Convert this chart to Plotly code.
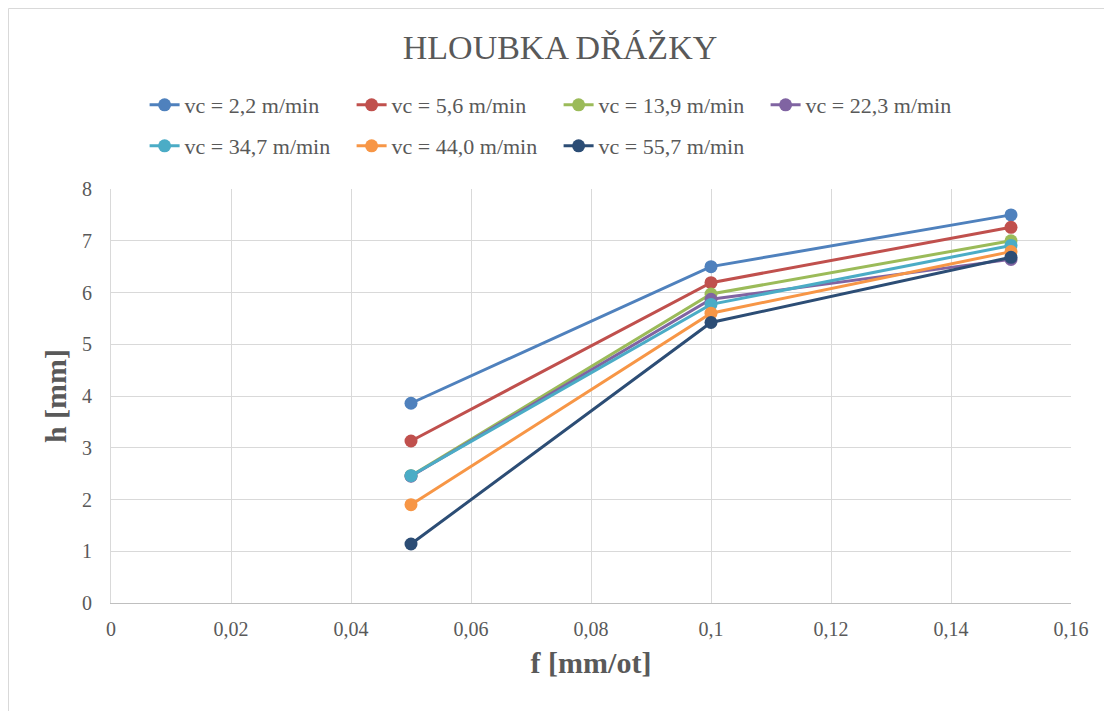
import plotly.graph_objects as go

f_vals = [0.05, 0.1, 0.15]
series_names = ["vc = 2,2 m/min", "vc = 5,6 m/min", "vc = 13,9 m/min", "vc = 22,3 m/min",
                "vc = 34,7 m/min", "vc = 44,0 m/min", "vc = 55,7 m/min"]
h_22 = [3.86, 6.50, 7.50]
h_56 = [3.13, 6.19, 7.26]
h_139 = [2.46, 5.97, 7.00]
h_223 = [2.45, 5.87, 6.64]
h_347 = [2.46, 5.77, 6.91]
h_440 = [1.90, 5.60, 6.79]
h_557 = [1.14, 5.42, 6.68]
series_values = [h_22, h_56, h_139, h_223, h_347, h_440, h_557]
colors = ["#4f81bd", "#c0504d", "#9bbb59", "#8064a2", "#4bacc6", "#f79646", "#2c4d75"]

FONT = "Liberation Serif, Times New Roman, serif"
GRAY = "#595959"

# page has an 8px body margin; figure placed at (8, 8)
W, H = 1104, 703
L, R, T, B = 103, 41, 181, 108
PW, PH = W - L - R, H - T - B

fig = go.Figure()
for i, (name, vals, col) in enumerate(zip(series_names, series_values, colors)):
    fig.add_trace(go.Scatter(
        x=f_vals, y=vals, name=name, mode="lines+markers",
        line=dict(color=col, width=3),
        marker=dict(color=col, size=13),
        legend="legend" if i < 4 else "legend2",
    ))

leg_common = dict(orientation="h", xanchor="left", yanchor="middle",
                  font=dict(family=FONT, size=22, color=GRAY), bgcolor="rgba(0,0,0,0)",
                  entrywidth=162, entrywidthmode="pixels")
fig.update_layout(
    width=W, height=H,
    margin=dict(l=L, r=R, t=T, b=B),
    paper_bgcolor="white", plot_bgcolor="white",
    separators=", ",
    font=dict(family=FONT, color=GRAY, size=20),
    title=dict(text="HLOUBKA DŘÁŽKY", x=0.5, xanchor="center", y=1 - 39 / H, yanchor="middle",
               font=dict(family=FONT, size=34, color=GRAY)),
    legend=dict(x=0.035, y=(PH + T - 97) / PH, **leg_common),
    legend2=dict(x=0.035, y=(PH + T - 138) / PH, **leg_common),
    showlegend=True,
)
fig.update_xaxes(
    range=[0, 0.16], dtick=0.02, tick0=0, showgrid=True, gridcolor="#d9d9d9", gridwidth=1,
    showline=True, linecolor="#bfbfbf", linewidth=1, zeroline=False, ticks="",
    tickfont=dict(family=FONT, size=20, color=GRAY), ticklabelstandoff=8,
    title=dict(text="<b>f [mm/ot]</b>", font=dict(family=FONT, size=30, color=GRAY), standoff=12),
)
fig.update_yaxes(
    range=[0, 8], dtick=1, showgrid=True, gridcolor="#d9d9d9", gridwidth=1,
    showline=True, linecolor="#d9d9d9", linewidth=1, zeroline=False, ticks="",
    tickfont=dict(family=FONT, size=20, color=GRAY), ticklabelstandoff=14,
    title=dict(text="<b>h [mm]</b>", font=dict(family=FONT, size=30, color=GRAY), standoff=6),
)
# outer chart frame
fig.add_shape(type="rect", xref="paper", yref="paper",
              x0=(0.5 - L) / PW, x1=(W + 20 - L) / PW,
              y0=-(B + 20) / PH, y1=(PH + T - 0.5) / PH,
              line=dict(color="#d9d9d9", width=1), layer="below")

fig.write_html("out.html")
